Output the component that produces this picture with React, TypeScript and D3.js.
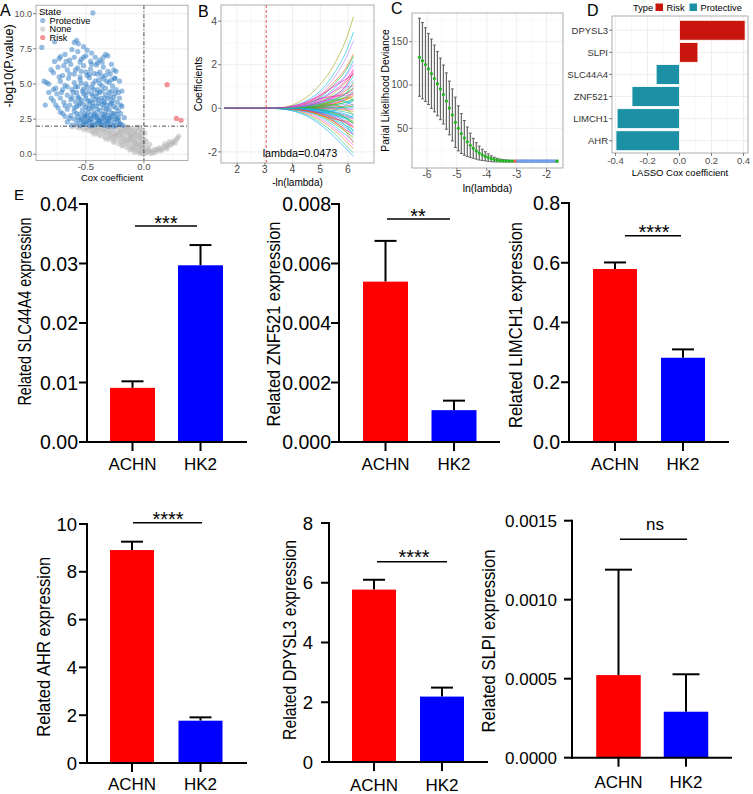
import React from "react";
import * as d3 from "d3";

const FONT = "'Liberation Sans', Arial, Helvetica, sans-serif";

// ---------------- Panel A: univariate Cox volcano ----------------
const PROTECTIVE_PTS: [number, number][] = [
  [-0.62, 2.08], [-0.58, 2.2], [-0.55, 2.05], [-0.52, 2.3], [-0.5, 2.12], [-0.48, 2.4], [-0.46, 2.02], [-0.44, 2.25],
  [-0.42, 2.1], [-0.4, 2.45], [-0.38, 2.15], [-0.36, 2.3], [-0.34, 2.05], [-0.32, 2.2], [-0.3, 2.4], [-0.28, 2.1],
  [-0.26, 2.28], [-0.24, 2.06], [-0.22, 2.35], [-0.2, 2.15], [-0.6, 2.5], [-0.56, 2.42], [-0.53, 2.58], [-0.49, 2.62],
  [-0.45, 2.55], [-0.41, 2.6], [-0.37, 2.52], [-0.33, 2.58], [-0.29, 2.62], [-0.25, 2.5], [-0.18, 2.05], [-0.66, 2.3],
  [-0.7, 2.9], [-0.66, 3.2], [-0.63, 2.75], [-0.6, 3.05], [-0.58, 3.4], [-0.55, 2.85], [-0.53, 3.15], [-0.51, 2.7],
  [-0.5, 3.35], [-0.48, 3.0], [-0.46, 2.8], [-0.45, 3.25], [-0.43, 2.95], [-0.41, 3.45], [-0.4, 2.75], [-0.38, 3.1],
  [-0.36, 2.85], [-0.35, 3.3], [-0.33, 3.0], [-0.31, 2.78], [-0.3, 3.2], [-0.28, 2.95], [-0.26, 3.4], [-0.24, 2.85],
  [-0.22, 3.1], [-0.2, 2.9], [-0.74, 3.3], [-0.68, 3.45], [-0.85, 3.5], [-0.64, 3.5], [-0.56, 3.5], [-0.47, 3.55],
  [-0.39, 3.6], [-0.32, 3.5], [-0.78, 3.8], [-0.72, 4.0], [-0.69, 3.7], [-0.66, 4.2], [-0.63, 3.9], [-0.61, 4.4],
  [-0.59, 3.75], [-0.57, 4.1], [-0.54, 3.85], [-0.52, 4.3], [-0.5, 3.95], [-0.48, 4.45], [-0.46, 3.8], [-0.44, 4.15],
  [-0.42, 3.9], [-0.4, 4.35], [-0.37, 4.0], [-0.35, 3.75], [-0.33, 4.25], [-0.31, 3.95], [-0.29, 4.1], [-0.27, 3.8],
  [-0.25, 4.3], [-0.23, 3.7], [-0.21, 4.0], [-0.75, 4.3], [-0.8, 4.0], [-0.84, 5.1], [-0.82, 5.0], [-0.76, 4.7],
  [-0.72, 5.2], [-0.68, 4.9], [-0.65, 5.4], [-0.62, 4.6], [-0.6, 5.1], [-0.57, 4.8], [-0.55, 5.3], [-0.52, 4.65],
  [-0.5, 5.0], [-0.47, 5.45], [-0.45, 4.75], [-0.42, 5.2], [-0.4, 4.6], [-0.38, 5.0], [-0.35, 5.35], [-0.33, 4.7],
  [-0.3, 5.1], [-0.27, 4.85], [-0.25, 5.4], [-0.24, 4.6], [-0.7, 4.6], [-0.78, 5.8], [-0.74, 6.2], [-0.7, 5.6],
  [-0.66, 6.0], [-0.63, 6.4], [-0.6, 5.7], [-0.57, 6.15], [-0.54, 5.9], [-0.52, 6.3], [-0.49, 5.6], [-0.46, 6.05],
  [-0.43, 5.75], [-0.41, 6.35], [-0.38, 5.85], [-0.35, 6.2], [-0.33, 5.6], [-0.31, 5.9], [-0.26, 6.0], [-0.25, 5.4],
  [-0.45, 6.4], [-0.77, 6.6], [-0.73, 6.8], [-0.72, 6.95], [-0.68, 7.1], [-0.64, 6.7], [-0.62, 7.45], [-0.6, 6.9],
  [-0.57, 7.3], [-0.54, 6.75], [-0.5, 7.0], [-0.49, 7.4], [-0.46, 6.6], [-0.42, 6.9], [-0.38, 6.7], [-0.33, 7.1],
  [-0.31, 7.0], [-0.6, 7.95], [-0.58, 8.1], [-0.565, 7.85], [-0.77, 8.0], [-0.88, 7.6], [-0.44, 10.05], [-0.52, 7.65],
  [-0.36, 6.55], [-0.47, 2.3], [-0.43, 2.7], [-0.39, 2.35], [-0.35, 2.65], [-0.31, 2.3], [-0.27, 2.7], [-0.23, 2.55],
  [-0.51, 2.9], [-0.44, 3.4], [-0.34, 3.65], [-0.29, 3.55], [-0.55, 3.65], [-0.48, 3.8], [-0.39, 3.85], [-0.36, 4.5],
  [-0.28, 4.5], [-0.53, 4.5], [-0.58, 4.4], [-0.43, 4.6],
  [-0.54, 2.45], [-0.5, 2.75], [-0.46, 2.5], [-0.42, 2.85], [-0.38, 2.4], [-0.34, 2.8], [-0.3, 2.55], [-0.26, 2.9],
  [-0.22, 2.6], [-0.57, 2.65], [-0.52, 3.55], [-0.48, 3.25], [-0.44, 3.65], [-0.4, 3.2], [-0.36, 3.55], [-0.32, 3.25],
  [-0.28, 3.65], [-0.24, 3.3], [-0.2, 3.5], [-0.6, 3.3], [-0.56, 4.0], [-0.5, 4.2], [-0.45, 4.3], [-0.41, 4.1],
  [-0.38, 4.4], [-0.34, 4.0], [-0.3, 4.4], [-0.26, 4.05], [-0.22, 4.4], [-0.62, 4.05], [-0.59, 4.8], [-0.54, 5.05],
  [-0.49, 4.8], [-0.44, 5.0], [-0.39, 5.3], [-0.36, 4.85], [-0.32, 5.2], [-0.28, 5.3], [-0.66, 4.8], [-0.71, 4.4],
  [-0.64, 5.7], [-0.59, 6.0], [-0.55, 5.5], [-0.5, 5.85], [-0.47, 5.7], [-0.4, 5.7], [-0.36, 5.55], [-0.29, 5.7],
  [-0.69, 6.3], [-0.8, 6.0], [-0.64, 2.55], [-0.68, 2.7], [-0.72, 3.0], [-0.76, 3.5], [-0.82, 4.4], [-0.78, 4.6],
  [-0.86, 5.2], [-0.73, 5.5], [-0.67, 6.6], [-0.55, 6.55], [-0.52, 6.9], [-0.45, 7.2], [-0.4, 6.5], [-0.35, 6.9],
  [-0.28, 6.4], [-0.24, 5.9], [-0.21, 5.2], [-0.19, 4.5], [-0.19, 3.4], [-0.17, 2.6], [-0.58, 2.9], [-0.5, 2.3],
  [-0.44, 2.05], [-0.36, 2.1], [-0.3, 2.0], [-0.26, 2.0], [-0.52, 2.12], [-0.4, 2.2], [-0.33, 2.4], [-0.21, 2.2]
];
const NONE_PTS: [number, number][] = [
  [-0.58, 1.98], [-0.54, 1.95], [-0.5, 1.85], [-0.46, 1.97], [-0.42, 1.8], [-0.38, 1.92], [-0.34, 1.84], [-0.3, 1.96],
  [-0.26, 1.82], [-0.22, 1.94], [-0.18, 1.86], [-0.14, 1.95], [-0.1, 1.8], [-0.06, 1.9], [-0.48, 1.7], [-0.45, 1.6],
  [-0.41, 1.52], [-0.4, 1.72], [-0.37, 1.66], [-0.33, 1.55], [-0.29, 1.68], [-0.25, 1.5], [-0.21, 1.62], [-0.2, 1.75],
  [-0.17, 1.55], [-0.13, 1.7], [-0.12, 1.85], [-0.09, 1.5], [-0.05, 1.65], [-0.03, 1.8], [-0.02, 1.55], [-0.37, 1.3],
  [-0.33, 1.22], [-0.29, 1.38], [-0.25, 1.25], [-0.21, 1.35], [-0.17, 1.2], [-0.13, 1.4], [-0.09, 1.25], [-0.05, 1.32],
  [-0.02, 1.2], [-0.3, 1.05], [-0.26, 0.95], [-0.22, 1.1], [-0.18, 0.92], [-0.14, 1.05], [-0.1, 0.95], [-0.06, 1.08],
  [-0.02, 0.92], [-0.22, 0.75], [-0.18, 0.65], [-0.14, 0.8], [-0.1, 0.62], [-0.06, 0.75], [-0.02, 0.6], [-0.15, 0.48],
  [-0.11, 0.38], [-0.07, 0.5], [-0.04, 0.32], [-0.01, 0.42], [-0.08, 0.15], [-0.04, 0.08], [0.0, 0.03], [0.02, 0.12],
  [-0.02, 0.2], [0.03, 0.15], [0.05, 0.25], [0.07, 0.2], [0.09, 0.35], [0.11, 0.3], [0.13, 0.45], [0.15, 0.4],
  [0.17, 0.55], [0.19, 0.5], [0.21, 0.7], [0.23, 0.65], [0.25, 0.85], [0.27, 0.8], [0.28, 1.05], [0.3, 1.3],
  [0.22, 0.9], [0.18, 0.75], [0.1, 0.15], [0.14, 0.25], [0.06, 0.05], [0.01, 1.5], [0.01, 1.0], [0.0, 0.7],
  [-0.44, 1.88], [-0.32, 1.75], [-0.16, 1.72], [-0.08, 1.38], [-0.24, 1.4], [-0.12, 1.12], [-0.08, 0.85], [-0.04, 0.55],
  [-0.62, 1.95], [-0.56, 1.88], [-0.52, 1.76], [-0.48, 1.92], [-0.44, 1.65], [-0.4, 1.85], [-0.36, 1.78], [-0.32, 1.9],
  [-0.28, 1.6], [-0.24, 1.88], [-0.2, 1.58], [-0.16, 1.9], [-0.12, 1.6], [-0.08, 1.7], [-0.04, 1.95], [-0.01, 1.7],
  [-0.43, 1.45], [-0.39, 1.4], [-0.35, 1.5], [-0.31, 1.45], [-0.27, 1.3], [-0.23, 1.5], [-0.19, 1.4], [-0.15, 1.5],
  [-0.11, 1.35], [-0.07, 1.5], [-0.03, 1.4], [-0.33, 1.1], [-0.29, 1.2], [-0.25, 1.1], [-0.2, 1.2], [-0.16, 1.1],
  [-0.12, 1.25], [-0.08, 1.1], [-0.04, 1.2], [-0.01, 1.1], [-0.26, 0.85], [-0.2, 0.9], [-0.16, 0.85], [-0.12, 0.95],
  [-0.08, 0.75], [-0.04, 0.85], [-0.01, 0.8], [-0.19, 0.6], [-0.13, 0.6], [-0.09, 0.5], [-0.05, 0.65], [-0.02, 0.45],
  [-0.12, 0.3], [-0.08, 0.3], [-0.05, 0.2], [-0.02, 0.05], [0.01, 0.3], [0.04, 0.35], [0.08, 0.1], [0.12, 0.35],
  [0.16, 0.3], [0.2, 0.6], [0.24, 0.75], [0.26, 0.95], [0.29, 1.15], [0.2, 0.4], [0.03, 0.5], [0.05, 0.7], [0.02, 0.9]
];
const RISK_PTS: [number, number][] = [[0.2, 4.95], [0.28, 2.55], [0.32, 2.42]];
const A_X_TICKS = [-0.5, 0];
const A_X_LABELS = ["-0.5", "0.0"];
const A_Y_TICKS = [0, 2.5, 5, 7.5, 10];
const A_Y_LABELS = ["0.0", "2.5", "5.0", "7.5", "10.0"];
const P_CUTOFF = 2;
const STATES = ["Protective", "None", "Risk"];

// ---------------- Panel B: LASSO coefficient paths ----------------
const NEG_LOG_LAMBDA = [1.55, 3, 3.5, 4, 4.5, 5, 5.5, 6, 6.2];
const COEF_PATHS: number[][] = [
  [0, 0, 0.02, 0.15, 0.5, 1.1, 2.0, 3.4, 4.2],
  [0, 0, 0.01, 0.1, 0.35, 0.8, 1.6, 2.8, 3.5],
  [0, 0, 0.01, 0.08, 0.3, 0.7, 1.4, 2.5, 3.1],
  [0, 0, 0, 0.05, 0.25, 0.6, 1.2, 2.0, 2.5],
  [0, 0, 0.01, 0.06, 0.2, 0.5, 1.1, 1.9, 2.4],
  [0, 0, 0, 0.04, 0.15, 0.45, 0.9, 1.7, 2.2],
  [0, 0, 0, 0.03, 0.12, 0.4, 0.8, 1.4, 1.8],
  [0, 0, 0, 0.02, 0.1, 0.3, 0.7, 1.3, 1.6],
  [0, 0, 0, 0.02, 0.08, 0.3, 0.6, 1.1, 1.5],
  [0, 0, 0, 0.01, 0.06, 0.25, 0.5, 1.0, 1.3],
  [0, 0, 0, 0.01, 0.05, 0.2, 0.45, 0.9, 1.1],
  [0, 0, 0, 0.01, 0.05, 0.15, 0.4, 0.75, 0.95],
  [0, 0, 0, 0, 0.04, 0.12, 0.3, 0.6, 0.8],
  [0, 0, 0, 0, 0.03, 0.1, 0.25, 0.5, 0.7],
  [0, 0, 0, 0, 0.02, 0.08, 0.2, 0.42, 0.55],
  [0, 0, 0, 0, 0.02, 0.06, 0.15, 0.32, 0.45],
  [0, 0, 0, 0, 0.01, 0.05, 0.1, 0.22, 0.3],
  [0, 0, 0, 0, 0.01, 0.03, 0.06, 0.12, 0.18],
  [0, 0, 0, 0, 0, 0.02, 0.03, 0.06, 0.1],
  [0, 0, 0, 0, 0, 0.01, 0.02, 0.02, 0.03],
  [0, 0, 0, 0, 0, -0.01, -0.02, -0.04, -0.05],
  [0, 0, 0, 0, -0.01, -0.02, -0.05, -0.1, -0.15],
  [0, 0, 0, 0, -0.01, -0.04, -0.1, -0.2, -0.28],
  [0, 0, 0, -0.01, -0.02, -0.06, -0.15, -0.3, -0.4],
  [0, 0, 0, -0.01, -0.03, -0.08, -0.2, -0.4, -0.5],
  [0, 0, 0, -0.01, -0.04, -0.1, -0.25, -0.48, -0.6],
  [0, 0, 0, -0.01, -0.05, -0.13, -0.3, -0.55, -0.7],
  [0, 0, 0, -0.02, -0.06, -0.16, -0.35, -0.65, -0.8],
  [0, 0, 0, -0.02, -0.07, -0.2, -0.42, -0.75, -0.9],
  [0, 0, 0, -0.02, -0.08, -0.22, -0.5, -0.85, -1.0],
  [0, 0, 0, -0.03, -0.1, -0.25, -0.55, -0.95, -1.1],
  [0, 0, 0, -0.03, -0.12, -0.3, -0.62, -1.05, -1.2],
  [0, 0, -0.01, -0.04, -0.14, -0.35, -0.7, -1.15, -1.35],
  [0, 0, -0.01, -0.05, -0.16, -0.4, -0.8, -1.3, -1.5],
  [0, 0, -0.01, -0.06, -0.2, -0.48, -0.9, -1.45, -1.7],
  [0, 0, -0.01, -0.07, -0.24, -0.55, -1.0, -1.6, -1.85],
  [0, 0, -0.02, -0.1, -0.3, -0.65, -1.15, -1.8, -2.05],
  [0, 0, -0.02, -0.12, -0.35, -0.75, -1.3, -1.95, -2.2],
  [0, 0, 0.01, 0.05, 0.2, 0.45, 0.55, 0.7, 0.9],
  [0, 0, 0.01, 0.03, 0.1, 0.2, 0.15, -0.1, -0.3],
  [0, 0, -0.01, -0.05, -0.15, -0.2, -0.1, 0.2, 0.4],
  [0, 0, 0, 0.02, 0.08, 0.25, 0.5, 0.6, 0.65],
  [0, 0, 0, -0.02, -0.1, -0.3, -0.5, -0.6, -0.65],
  [0, 0, 0, 0.01, 0.04, 0.12, 0.35, 0.8, 1.2],
  [0, 0, 0, -0.01, -0.05, -0.15, -0.4, -0.9, -1.25],
  [0, 0, 0.01, 0.04, 0.12, 0.3, 0.55, 1.2, 1.7],
  [0, 0, 0, 0.02, 0.06, 0.18, 0.3, 0.5, 0.35],
  [0, 0, 0, -0.02, -0.06, -0.18, -0.3, -0.45, -0.3],
  [0, 0, 0.01, 0.06, 0.22, 0.55, 1.05, 1.6, 2.0],
  [0, 0, 0, -0.01, -0.02, 0.05, 0.2, 0.45, 0.6],
  [0, 0, 0, 0.01, 0.02, -0.05, -0.2, -0.5, -0.7],
  [0, 0, 0, 0.03, 0.1, 0.22, 0.4, 0.28, 0.1],
  [0, 0, 0, -0.03, -0.1, -0.22, -0.45, -0.7, -0.85],
  [0, 0, 0, 0, 0.02, 0.1, 0.35, 0.55, 0.75],
  [0, 0, 0, 0, -0.02, -0.1, -0.3, -0.75, -1.05],
  [0, 0, 0.01, 0.03, 0.15, 0.35, 0.8, 1.0, 1.0],
  [0, 0, -0.01, -0.03, -0.12, -0.3, -0.6, -1.2, -1.6],
  [0, 0, 0, 0.01, 0.03, 0.08, 0.16, 0.3, 0.38],
  [0, 0, 0, -0.01, -0.03, -0.07, -0.18, -0.35, -0.45],
  [0, 0, 0.02, 0.1, 0.28, 0.6, 1.0, 1.4, 1.55]
];
const LAMBDA_MIN = 0.0473;
const B_X_TICKS = [2, 3, 4, 5, 6];
const B_Y_TICKS = [-2, 0, 2, 4];

// ---------------- Panel C: cross-validation ----------------
const LOG_LAMBDA_CV = [
  -6.25, -6.15, -6.05, -5.95, -5.85, -5.75, -5.65, -5.55, -5.45, -5.35, -5.25, -5.15, -5.05, -4.95, -4.85, -4.75,
  -4.65, -4.55, -4.45, -4.35, -4.25, -4.15, -4.05, -3.95, -3.85, -3.75, -3.65, -3.55, -3.45, -3.35, -3.25, -3.15,
  -3.05, -2.95, -2.85, -2.75, -2.65, -2.55, -2.45, -2.35, -2.25, -2.15, -2.05, -1.95, -1.85, -1.75, -1.65
];
const CV_MEAN = [
  132, 128, 123.5, 118.5, 113, 107.5, 101.5, 95.5, 89, 81.5, 73.5, 65.5, 57, 50, 44, 39,
  34.5, 30.5, 27, 24, 21.5, 19.5, 17.8, 16.3, 15.0, 14.0, 13.3, 12.9, 12.6, 12.4, 12.3, 12.3,
  12.2, 12.2, 12.2, 12.2, 12.2, 12.2, 12.2, 12.2, 12.2, 12.2, 12.2, 12.2, 12.2, 12.2, 12.2
];
const CV_SD = [
  45, 44, 42.5, 41, 40, 38.5, 37, 35.5, 34, 32.5, 31, 30, 29, 26, 23, 20,
  17, 14, 11.5, 9.5, 8, 6.5, 5.3, 4.3, 3.4, 2.7, 2.1, 1.7, 1.4, 1.2, 1.1, 1.0,
  1.0, 1.0, 1.0, 1.0, 1.0, 1.0, 1.0, 1.0, 1.0, 1.0, 1.0, 1.0, 1.0, 1.0, 1.0
];
const C_X_TICKS = [-6, -5, -4, -3, -2];
const C_Y_TICKS = [50, 100, 150];

// ---------------- Panel D: LASSO coefficients ----------------
const LASSO_GENES = ["DPYSL3", "SLPI", "SLC44A4", "ZNF521", "LIMCH1", "AHR"];
const LASSO_COEF = [0.41, 0.115, -0.146, -0.297, -0.39, -0.397];
const D_X_TICKS = [-0.4, -0.2, 0, 0.2, 0.4];
const D_X_LABELS = ["-0.4", "-0.2", "0.0", "0.2", "0.4"];

// ---------------- Panel E: qPCR ----------------
const CELL_LINES = ["ACHN", "HK2"];
const QPCR_GENES = ["SLC44A4", "ZNF521", "LIMCH1", "AHR", "DPYSL3", "SLPI"];
const QPCR_MEAN = [
  [0.0091, 0.0297], [0.00539, 0.00107], [0.579, 0.282], [8.91, 1.77], [5.77, 2.19], [0.000523, 0.000291]
];
const QPCR_UPPER = [
  [0.0102, 0.0331], [0.00676, 0.00139], [0.601, 0.31], [9.26, 1.91], [6.1, 2.49], [0.00119, 0.000528]
];
const QPCR_YMAX = [0.04, 0.008, 0.8, 10, 8, 0.0015];
const QPCR_TICKS = [
  [0, 0.01, 0.02, 0.03, 0.04], [0, 0.002, 0.004, 0.006, 0.008], [0, 0.2, 0.4, 0.6, 0.8],
  [0, 2, 4, 6, 8, 10], [0, 2, 4, 6, 8], [0, 0.0005, 0.001, 0.0015]
];
const QPCR_TICK_LABELS = [
  ["0.00", "0.01", "0.02", "0.03", "0.04"], ["0.000", "0.002", "0.004", "0.006", "0.008"],
  ["0.0", "0.2", "0.4", "0.6", "0.8"], ["0", "2", "4", "6", "8", "10"], ["0", "2", "4", "6", "8"],
  ["0.0000", "0.0005", "0.0010", "0.0015"]
];
const QPCR_SIG = ["***", "**", "****", "****", "****", "ns"];

// layout of the six qPCR charts (pixels)
const E_LAYOUT = [
  { ax: 87, y0: 442, yTop: 204, xEnd: 247, cx: [132.5, 200.5], bw: 45, cap: 22, tf: 19.5, tlx: 78, lx: 25, ly: 311.5, ll: 188, catY: 470, sig: [135, 197, 226], sigCx: 166, sigY: 229.6 },
  { ax: 339, y0: 442, yTop: 204, xEnd: 500, cx: [385.5, 454], bw: 45, cap: 22, tf: 19.5, tlx: 331, lx: 274, ly: 324, ll: 205, catY: 470, sig: [387, 450, 219], sigCx: 418, sigY: 222.5 },
  { ax: 569, y0: 442, yTop: 203, xEnd: 729, cx: [615, 683], bw: 44, cap: 22, tf: 19.5, tlx: 560, lx: 516, ly: 325, ll: 206, catY: 470, sig: [625, 681, 235.7], sigCx: 654, sigY: 239.2 },
  { ax: 87, y0: 763, yTop: 524, xEnd: 247, cx: [132, 200.5], bw: 44, cap: 22, tf: 18.5, tlx: 77, lx: 44, ly: 646.7, ll: 180, catY: 790, sig: [133, 202, 522.7], sigCx: 168, sigY: 525.5 },
  { ax: 329, y0: 762, yTop: 523, xEnd: 488, cx: [374, 442], bw: 44, cap: 22, tf: 18.5, tlx: 313, lx: 290, ly: 640, ll: 200, catY: 791, sig: [377, 447, 561.7], sigCx: 414, sigY: 564.2 },
  { ax: 572, y0: 757.7, yTop: 520.7, xEnd: 732, cx: [618.5, 686], bw: 44.5, cap: 27, tf: 17, tlx: 557, lx: 489, ly: 641, ll: 183, catY: 788, sig: [620, 687, 539.3], sigCx: 655, sigY: 530 }
];

const GRID_MAJOR = "#e6e6e6";
const GRID_MINOR = "#f3f3f3";
const FRAME = "#9a9a9a";
const TICK_TXT = "#4d4d4d";

function Frame({ x0, x1, y0, y1, xMajor, xMinor, yMajor, yMinor }: any) {
  return (
    <g>
      {xMinor.map((v: number, i: number) => <line key={"xm" + i} x1={v} x2={v} y1={y0} y2={y1} stroke={GRID_MINOR} strokeWidth={0.5} />)}
      {yMinor.map((v: number, i: number) => <line key={"ym" + i} x1={x0} x2={x1} y1={v} y2={v} stroke={GRID_MINOR} strokeWidth={0.5} />)}
      {xMajor.map((v: number, i: number) => <line key={"xM" + i} x1={v} x2={v} y1={y0} y2={y1} stroke={GRID_MAJOR} strokeWidth={0.7} />)}
      {yMajor.map((v: number, i: number) => <line key={"yM" + i} x1={x0} x2={x1} y1={v} y2={v} stroke={GRID_MAJOR} strokeWidth={0.7} />)}
    </g>
  );
}

function Border({ x0, x1, y0, y1 }: any) {
  return <rect x={x0} y={y0} width={x1 - x0} height={y1 - y0} fill="none" stroke={FRAME} strokeWidth={0.8} />;
}

function PanelA() {
  const x = d3.scaleLinear().domain([-0.93, 0.38]).range([36, 188]);
  const y = d3.scaleLinear().domain([-0.45, 10.6]).range([160.6, 5.2]);
  const [x0, x1] = x.range();
  const [y1, y0] = y.range();
  const stateColor = d3.scaleOrdinal<string, string>().domain(STATES).range(["#2f7ec6", "#b5b5b5", "#ef7f84"]);
  const groups: [string, [number, number][]][] = [["None", NONE_PTS], ["Protective", PROTECTIVE_PTS], ["Risk", RISK_PTS]];
  return (
    <g>
      <Frame x0={x0} x1={x1} y0={y0} y1={y1}
        xMajor={A_X_TICKS.map(x)} xMinor={[-0.75, -0.25, 0.25].map(x)}
        yMajor={A_Y_TICKS.map(y)} yMinor={[1.25, 3.75, 6.25, 8.75].map(y)} />
      {groups.map(([name, pts]) => (
        <g key={name}>
          {pts.map((p, i) => (
            <circle key={i} cx={x(p[0])} cy={y(p[1])} r={2.6} fill={stateColor(name)} fillOpacity={name === "Risk" ? 0.85 : 0.5} />
          ))}
        </g>
      ))}
      <line x1={x(0)} x2={x(0)} y1={y0} y2={y1} stroke="#222" strokeWidth={0.8} strokeDasharray="4,2,1,2" />
      <line x1={x0} x2={x1} y1={y(P_CUTOFF)} y2={y(P_CUTOFF)} stroke="#222" strokeWidth={0.8} strokeDasharray="4,2,1,2" />
      <Border x0={x0} x1={x1} y0={y0} y1={y1} />
      {A_Y_TICKS.map((t, i) => (
        <g key={i}>
          <line x1={x0 - 3} x2={x0} y1={y(t)} y2={y(t)} stroke="#333" strokeWidth={0.6} />
          <text x={x0 - 4} y={y(t)} dy="0.35em" textAnchor="end" fontSize={9} fill={TICK_TXT}>{A_Y_LABELS[i]}</text>
        </g>
      ))}
      {A_X_TICKS.map((t, i) => (
        <g key={i}>
          <line x1={x(t)} x2={x(t)} y1={y1} y2={y1 + 3} stroke="#333" strokeWidth={0.6} />
          <text x={x(t)} y={y1 + 9.5} textAnchor="middle" fontSize={9.5} fill={TICK_TXT}>{A_X_LABELS[i]}</text>
        </g>
      ))}
      <text x={(x0 + x1) / 2} y={181} textAnchor="middle" fontSize={9.5}>Cox coefficient</text>
      <text transform={`translate(9,66) rotate(-90)`} dy="0.35em" textAnchor="middle" fontSize={12.5}>-log10(P.value)</text>
      <text x={39} y={15} fontSize={9.5}>State</text>
      {STATES.map((s, i) => (
        <g key={s}>
          <circle cx={42.7} cy={20.5 + i * 8.5} r={2.6} fill={stateColor(s)} fillOpacity={s === "Risk" ? 0.85 : 0.5} />
          <text x={49.5} y={20.5 + i * 8.5} dy="0.35em" fontSize={9.2}>{s}</text>
        </g>
      ))}
      <text x={0} y={16} fontSize={16}>A</text>
    </g>
  );
}

function PanelB() {
  const x = d3.scaleLinear().domain([1.42, 6.94]).range([221, 374]);
  const y = d3.scaleLinear().domain([-2.51, 4.74]).range([163, 5]);
  const [x0, x1] = x.range();
  const [y1, y0] = y.range();
  const n = COEF_PATHS.length;
  const line = d3.line<number>().x((_, i) => x(NEG_LOG_LAMBDA[i])).y((d) => y(d)).curve(d3.curveMonotoneX);
  const lam = -Math.log(LAMBDA_MIN);
  const hue = (i: number) => d3.hcl(15 + (360 * ((i * 17 + 14) % n)) / n, 100, 65).toString();
  return (
    <g>
      <Frame x0={x0} x1={x1} y0={y0} y1={y1}
        xMajor={B_X_TICKS.map(x)} xMinor={[1.5, 2.5, 3.5, 4.5, 5.5, 6.5].map(x)}
        yMajor={B_Y_TICKS.map(y)} yMinor={[-1, 1, 3].map(y)} />
      {COEF_PATHS.map((p, i) => (
        <path key={i} d={line(p) || ""} fill="none" stroke={hue(i)} strokeWidth={0.7} strokeOpacity={0.85} />
      ))}
      <line x1={x(lam)} x2={x(lam)} y1={y0} y2={y1} stroke="#e0302b" strokeWidth={0.8} strokeDasharray="3,2" />
      <text x={300} y={157} textAnchor="middle" fontSize={10.8}>lambda=0.0473</text>
      <Border x0={x0} x1={x1} y0={y0} y1={y1} />
      {B_Y_TICKS.map((t, i) => (
        <g key={i}>
          <line x1={x0 - 3} x2={x0} y1={y(t)} y2={y(t)} stroke="#333" strokeWidth={0.6} />
          <text x={x0 - 4} y={y(t)} dy="0.35em" textAnchor="end" fontSize={10.5} fill={TICK_TXT}>{t < 0 ? "-" + Math.abs(t) : t}</text>
        </g>
      ))}
      {B_X_TICKS.map((t, i) => (
        <g key={i}>
          <line x1={x(t)} x2={x(t)} y1={y1} y2={y1 + 3} stroke="#333" strokeWidth={0.6} />
          <text x={x(t)} y={173} textAnchor="middle" fontSize={10.5} fill={TICK_TXT}>{t}</text>
        </g>
      ))}
      <text x={(x0 + x1) / 2} y={185.5} textAnchor="middle" fontSize={10}>-ln(lambda)</text>
      <text transform={`translate(198,${(y0 + y1) / 2}) rotate(-90)`} dy="0.35em" textAnchor="middle" fontSize={10.5}>Coefficients</text>
      <text x={198} y={17} fontSize={16}>B</text>
    </g>
  );
}

function PanelC() {
  const x = d3.scaleLinear().domain([-6.5, -1.45]).range([412, 563]);
  const y = d3.scaleLinear().domain([4.3, 183]).range([168, 13]);
  const [x0, x1] = x.range();
  const [y1, y0] = y.range();
  const lmin = Math.log(LAMBDA_MIN);
  const last = LOG_LAMBDA_CV.length - 1;
  return (
    <g>
      <Frame x0={x0} x1={x1} y0={y0} y1={y1}
        xMajor={C_X_TICKS.map(x)} xMinor={[-6.5, -5.5, -4.5, -3.5, -2.5, -1.5].map(x)}
        yMajor={C_Y_TICKS.map(y)} yMinor={[25, 75, 125, 175].map(y)} />
      {LOG_LAMBDA_CV.map((l, i) => {
        const hi = y(CV_MEAN[i] + CV_SD[i]);
        const lo = y(CV_MEAN[i] - CV_SD[i]);
        return (
          <g key={i}>
            <line x1={x(l)} x2={x(l)} y1={hi} y2={lo} stroke="#666" strokeWidth={1.2} />
            <line x1={x(l) - 1.5} x2={x(l) + 1.5} y1={hi} y2={hi} stroke="#555" strokeWidth={0.9} />
            <line x1={x(l) - 1.5} x2={x(l) + 1.5} y1={lo} y2={lo} stroke="#555" strokeWidth={0.9} />
          </g>
        );
      })}
      {LOG_LAMBDA_CV.map((l, i) => {
        const isMin = Math.abs(l - lmin) < 0.05;
        const blue = !isMin && i !== last && l > lmin;
        const col = isMin ? "#e8604c" : blue ? "#6f9ff0" : "#1fb51f";
        return <circle key={i} cx={x(l)} cy={y(CV_MEAN[i])} r={blue ? 1.8 : 1.6} fill={col} />;
      })}
      <Border x0={x0} x1={x1} y0={y0} y1={y1} />
      {C_Y_TICKS.map((t, i) => (
        <g key={i}>
          <line x1={x0 - 3} x2={x0} y1={y(t)} y2={y(t)} stroke="#333" strokeWidth={0.6} />
          <text x={x0 - 4} y={y(t)} dy="0.35em" textAnchor="end" fontSize={10} fill={TICK_TXT}>{t}</text>
        </g>
      ))}
      {C_X_TICKS.map((t, i) => (
        <g key={i}>
          <line x1={x(t)} x2={x(t)} y1={y1} y2={y1 + 3} stroke="#333" strokeWidth={0.6} />
          <text x={x(t)} y={178} textAnchor="middle" fontSize={10.5} fill={TICK_TXT}>{"-" + Math.abs(t)}</text>
        </g>
      ))}
      <text x={(x0 + x1) / 2} y={192} textAnchor="middle" fontSize={10.5}>ln(lambda)</text>
      <text transform={`translate(385,${(y0 + y1) / 2}) rotate(-90)`} dy="0.35em" textAnchor="middle" fontSize={10.4}>Parial Likelihood Deviance</text>
      <text x={391} y={14} fontSize={16}>C</text>
    </g>
  );
}

function PanelD() {
  const x = d3.scaleLinear().domain([-0.422, 0.428]).range([612, 748]);
  const y = d3.scalePoint<string>().domain(LASSO_GENES).range([17, 154]).padding(0.6);
  const bh = y.step() * 0.9;
  const [x0, x1] = x.range();
  const y0 = 16, y1 = 153;
  const typeColor = (v: number) => (v > 0 ? "#c8160f" : "#1c90a4");
  return (
    <g>
      <Frame x0={x0} x1={x1} y0={y0} y1={y1}
        xMajor={D_X_TICKS.map(x)} xMinor={[-0.3, -0.1, 0.1, 0.3].map(x)}
        yMajor={LASSO_GENES.map((g) => y(g) as number)} yMinor={[]} />
      {LASSO_GENES.map((g, i) => {
        const v = LASSO_COEF[i];
        return (
          <rect key={g} x={Math.min(x(0), x(v))} y={(y(g) as number) - bh / 2} width={Math.abs(x(v) - x(0))} height={bh}
            fill={typeColor(v)} stroke="#fff" strokeWidth={0.8} />
        );
      })}
      <Border x0={x0} x1={x1} y0={y0} y1={y1} />
      {LASSO_GENES.map((g) => (
        <g key={g}>
          <line x1={x0 - 3} x2={x0} y1={y(g)} y2={y(g)} stroke="#333" strokeWidth={0.6} />
          <text x={x0 - 4} y={y(g)} dy="0.35em" textAnchor="end" fontSize={9.5} fill="#333">{g}</text>
        </g>
      ))}
      {D_X_TICKS.map((t, i) => (
        <g key={i}>
          <line x1={x(t)} x2={x(t)} y1={y1} y2={y1 + 3} stroke="#333" strokeWidth={0.6} />
          <text x={x(t)} y={163.5} textAnchor="middle" fontSize={9.5} fill={TICK_TXT}>{D_X_LABELS[i]}</text>
        </g>
      ))}
      <text x={(x0 + x1) / 2} y={176} textAnchor="middle" fontSize={9.5}>LASSO Cox coefficient</text>
      <text x={633} y={11} fontSize={9.3}>Type</text>
      <rect x={655.5} y={3.5} width={7.5} height={7.5} fill="#c8160f" />
      <text x={666.5} y={11} fontSize={9.3}>Risk</text>
      <rect x={689.5} y={3.5} width={7.5} height={7.5} fill="#1c90a4" />
      <text x={700.5} y={11} fontSize={9.3}>Protective</text>
      <text x={587} y={16} fontSize={16}>D</text>
    </g>
  );
}

function QpcrChart({ k }: { k: number }) {
  const L = E_LAYOUT[k];
  const y = d3.scaleLinear().domain([0, QPCR_YMAX[k]]).range([L.y0, L.yTop]);
  const barColor = d3.scaleOrdinal<string, string>().domain(CELL_LINES).range(["#ff0000", "#0000ff"]);
  return (
    <g>
      {CELL_LINES.map((c, j) => {
        const v = QPCR_MEAN[k][j];
        const u = QPCR_UPPER[k][j];
        const cx = L.cx[j];
        return (
          <g key={c}>
            <line x1={cx} x2={cx} y1={y(v)} y2={y(u)} stroke="#000" strokeWidth={2} />
            <line x1={cx - L.cap / 2} x2={cx + L.cap / 2} y1={y(u)} y2={y(u)} stroke="#000" strokeWidth={2} />
            <rect x={cx - L.bw / 2} y={y(v)} width={L.bw} height={L.y0 - y(v)} fill={barColor(c)} />
            <line x1={cx} x2={cx} y1={L.y0} y2={L.y0 + 9} stroke="#000" strokeWidth={2} />
            <text x={cx} y={L.catY} textAnchor="middle" fontSize={17}>{c}</text>
          </g>
        );
      })}
      <line x1={L.ax} x2={L.ax} y1={L.yTop - 1} y2={L.y0 + 1} stroke="#000" strokeWidth={2} />
      <line x1={L.ax - 1} x2={L.xEnd} y1={L.y0} y2={L.y0} stroke="#000" strokeWidth={2} />
      {QPCR_TICKS[k].map((t, i) => (
        <g key={i}>
          <line x1={L.ax - 8} x2={L.ax} y1={y(t)} y2={y(t)} stroke="#000" strokeWidth={2} />
          <text x={L.tlx} y={y(t)} dy="0.36em" textAnchor="end" fontSize={L.tf}>{QPCR_TICK_LABELS[k][i]}</text>
        </g>
      ))}
      <line x1={L.sig[0]} x2={L.sig[1]} y1={L.sig[2]} y2={L.sig[2]} stroke="#000" strokeWidth={1.6} />
      <text x={L.sigCx} y={L.sigY} textAnchor="middle" fontSize={QPCR_SIG[k] === "ns" ? 17 : 20}>{QPCR_SIG[k]}</text>
      <text transform={`translate(${L.lx},${L.ly}) rotate(-90)`} dy="0.36em" textAnchor="middle" fontSize={17.5}
        textLength={L.ll} lengthAdjust="spacingAndGlyphs">{`Related ${QPCR_GENES[k]} expression`}</text>
    </g>
  );
}

export default function App() {
  return (
    <svg width={753} height={794} viewBox="0 0 753 794" fontFamily={FONT}
      style={{ position: "absolute", left: 0, top: 0, display: "block", background: "#fff" }}>
      <rect x={0} y={0} width={753} height={794} fill="#fff" />
      <PanelA />
      <PanelB />
      <PanelC />
      <PanelD />
      <text x={14} y={200} fontSize={15}>E</text>
      {QPCR_GENES.map((g, k) => <QpcrChart key={g} k={k} />)}
    </svg>
  );
}
